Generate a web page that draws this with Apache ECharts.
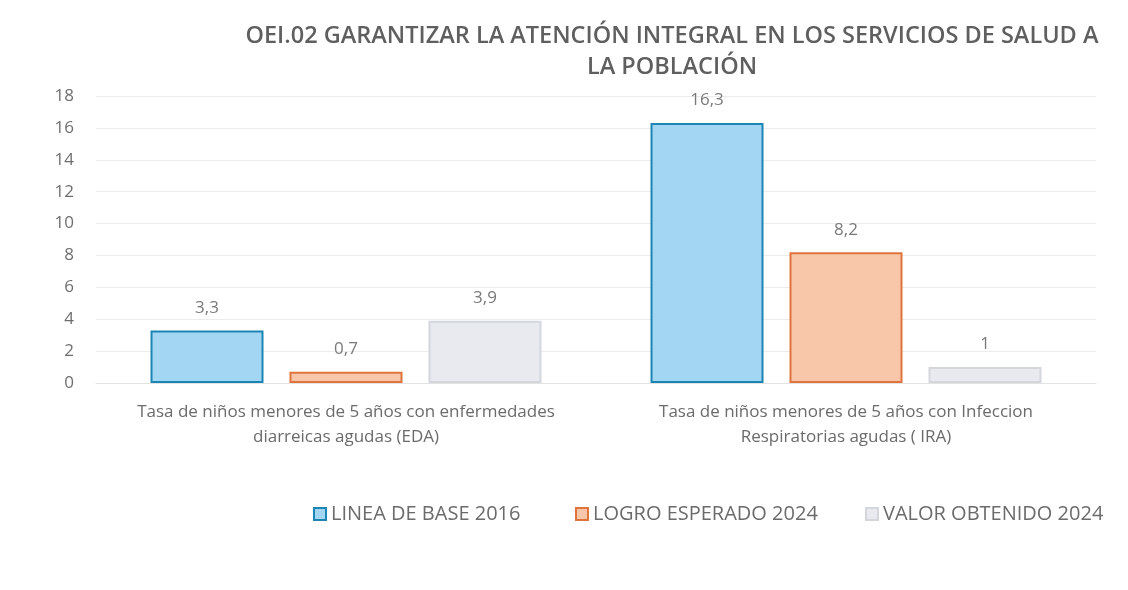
<!DOCTYPE html>
<html><head><meta charset="utf-8">
<script src="https://cdn.jsdelivr.net/npm/echarts@6/dist/echarts.min.js"></script>
<style>html,body{margin:0;padding:0;background:#fff}#c{width:1128px;height:590px}</style>
</head><body><div id="c"></div>
<script>
const categories = [
  "Tasa de niños menores de 5 años con enfermedades\ndiarreicas agudas (EDA)",
  "Tasa de niños menores de 5 años con Infeccion\nRespiratorias agudas ( IRA)"
];
const seriesNames = ["LINEA DE BASE 2016", "LOGRO ESPERADO 2024", "VALOR OBTENIDO 2024"];
const lineaBase = [3.3, 16.3];
const logroEsperado = [0.7, 8.2];
const valorObtenido = [3.9, 1];
const yTicks = [0, 2, 4, 6, 8, 10, 12, 14, 16, 18];

const fills = ["#a3d6f2", "#f8c6a8", "#e8eaf0"];
const borders = ["#1b86b3", "#e0743e", "#d3d6dd"];
const font = "'Open Sans', 'Noto Sans', sans-serif";
const txt = "#6b6b6b";
const legendLefts = [308, 570, 860];

function mk(name, data, i) {
  return {
    name: name, type: 'bar', data: data,
    barWidth: 113, barGap: '23%',
    itemStyle: { color: fills[i], borderColor: borders[i], borderWidth: 2 },
    label: { show: true, position: 'top', distance: 14, color: '#7a7a7a', fontSize: 17, fontFamily: font,
      formatter: p => String(p.value).replace('.', ',') }
  };
}

const chart = echarts.init(document.getElementById('c'), null, {renderer: 'canvas'});
chart.setOption({
  backgroundColor: '#fff',
  animation: false,
  title: {
    text: 'OEI.02 GARANTIZAR LA ATENCIÓN INTEGRAL EN LOS SERVICIOS DE SALUD A\nLA POBLACIÓN',
    left: 667, top: 16, textAlign: 'center',
    textStyle: { fontFamily: font, fontSize: 23.5, fontWeight: 600, color: '#5f5f5f', lineHeight: 31 }
  },
  legend: seriesNames.map((n, i) => ({
    data: [n], left: legendLefts[i], top: 499, itemWidth: 12, itemHeight: 12, itemGap: 5,
    textStyle: { fontFamily: font, fontSize: 20, color: txt },
    icon: 'rect'
  })),
  grid: { left: 96, right: 32, top: 96, bottom: 207 },
  xAxis: {
    type: 'category', data: categories,
    axisLine: { show: true, lineStyle: { color: '#e2e2e2' } },
    axisTick: { show: false },
    axisLabel: { interval: 0, hideOverlap: false, fontFamily: font, fontSize: 17, color: txt, lineHeight: 25, margin: 17 }
  },
  yAxis: {
    type: 'value', min: yTicks[0], max: yTicks[yTicks.length - 1], interval: 2,
    axisLine: { show: false }, axisTick: { show: false },
    axisLabel: { fontFamily: font, fontSize: 17, color: '#6e6e6e', margin: 22 },
    splitLine: { lineStyle: { color: '#ececec' } }
  },
  series: [mk(seriesNames[0], lineaBase, 0), mk(seriesNames[1], logroEsperado, 1), mk(seriesNames[2], valorObtenido, 2)]
});
</script></body></html>
